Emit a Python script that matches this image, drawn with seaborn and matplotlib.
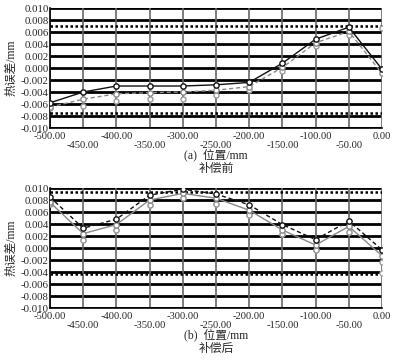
import numpy as np
import pandas as pd
import matplotlib
matplotlib.use("Agg")
import matplotlib.pyplot as plt
import seaborn as sns

sns.set_style("white")
plt.rcParams['font.family'] = ['Liberation Serif', 'Noto Sans CJK SC']
plt.rcParams['axes.unicode_minus'] = False

positions = [-500, -450, -400, -350, -300, -250, -200, -150, -100, -50, 0]
xtick_labels = ["-500.00", "-450.00", "-400.00", "-350.00", "-300.00", "-250.00",
                "-200.00", "-150.00", "-100.00", "-50.00", "0.00"]
yticks = [-0.010, -0.008, -0.006, -0.004, -0.002, 0.000, 0.002, 0.004, 0.006, 0.008, 0.010]

# (a) before compensation
a_s1 = [-0.0058, -0.0040, -0.0030, -0.0030, -0.0030, -0.0028, -0.0024, 0.0008, 0.0048, 0.0068, -0.0002]
a_s2 = [-0.0065, -0.0052, -0.0043, -0.0041, -0.0040, -0.0037, -0.0031, 0.0001, 0.0042, 0.0061, -0.0009]
a_s3 = [-0.0066, -0.0064, -0.0055, -0.0051, -0.0051, -0.0045, -0.0037, -0.0005, 0.0037, 0.0055, 0.0066]
a_limits = [0.0070, -0.0075]

# (b) after compensation
b_s1 = [0.0085, 0.0033, 0.0048, 0.0088, 0.0098, 0.0090, 0.0072, 0.0039, 0.0014, 0.0045, -0.0003]
b_s2 = [0.0076, 0.0024, 0.0039, 0.0080, 0.0091, 0.0083, 0.0063, 0.0030, 0.0005, 0.0036, -0.0013]
b_s3 = [0.0073, 0.0013, 0.0030, 0.0072, 0.0083, 0.0074, 0.0055, 0.0024, -0.0003, 0.0027, -0.0024]
b_s4 = [0.0073, 0.0013, 0.0030, 0.0072, 0.0083, 0.0074, 0.0055, 0.0024, -0.0003, 0.0027, -0.0041]
b_limits = [0.0094, -0.0044]

fig = plt.figure(figsize=(3.99, 3.61), dpi=100)
ax_a = fig.add_axes([0.1253, 0.6454, 0.8321, 0.3324])
ax_b = fig.add_axes([0.1253, 0.1468, 0.8321, 0.3324])


def style_axes(ax, limits, label_prefix, label_cn):
    ax.set_xlim(-500, 0)
    ax.set_ylim(-0.010, 0.010)
    ax.set_axisbelow(True)
    ax.set_yticks(yticks)
    ax.set_yticklabels([f"{v:.3f}".replace("-0.000", "0.000") for v in yticks], fontsize=7.8)
    major = positions[0::2]
    minor = positions[1::2]
    ax.set_xticks(major)
    ax.set_xticklabels(xtick_labels[0::2], fontsize=7.6)
    ax.set_xticks(minor, minor=True)
    ax.set_xticklabels(xtick_labels[1::2], minor=True, fontsize=7.6)
    ax.tick_params(axis='x', which='major', length=0, pad=3)
    ax.tick_params(axis='x', which='minor', length=0, pad=9)
    ax.tick_params(axis='y', length=0, pad=1)
    ax.grid(False)
    for yv in yticks:
        ax.axhline(yv, color='black', lw=2.0, zorder=0)
    for xv in positions:
        ax.axvline(xv, color='#666666', lw=1.2, zorder=0)
    for lv in limits:
        ax.axhline(lv, color='black', lw=1.8, linestyle=(0, (1, 1)), zorder=1)
    for s in ['top', 'right']:
        ax.spines[s].set_visible(False)
    for s in ['left', 'bottom']:
        ax.spines[s].set_color('black')
        ax.spines[s].set_linewidth(1.2)
    ax.set_ylabel("热误差/mm", fontsize=8.5, labelpad=2)
    ax.set_xlabel(f"{label_prefix}  位置/mm\n{label_cn}", fontsize=8.5, labelpad=-1,
                  linespacing=1.25)


def line(ax, vals, color, ls, z):
    sns.lineplot(x=positions, y=vals, ax=ax, color=color, linestyle=ls, lw=1.0,
                 marker='o', markersize=3.8, markerfacecolor='white',
                 markeredgecolor=color, markeredgewidth=1.0, zorder=z)


def pts(ax, vals, color, z):
    sns.scatterplot(x=positions, y=vals, ax=ax, s=13, facecolor='white',
                    edgecolor=color, linewidth=1.0, zorder=z)


# panel (a)
pts(ax_a, a_s3, '#999999', 3)
line(ax_a, a_s2, '#888888', (0, (3, 2)), 4)
line(ax_a, a_s1, '#111111', '-', 5)
style_axes(ax_a, a_limits, "(a)", "补偿前")

# panel (b)
pts(ax_b, b_s4, '#aaaaaa', 3)
pts(ax_b, b_s3, '#999999', 3)
line(ax_b, b_s2, '#888888', '-', 4)
line(ax_b, b_s1, '#111111', (0, (3, 2)), 5)
style_axes(ax_b, b_limits, "(b)", "补偿后")

fig.savefig("out.png", dpi=100)
